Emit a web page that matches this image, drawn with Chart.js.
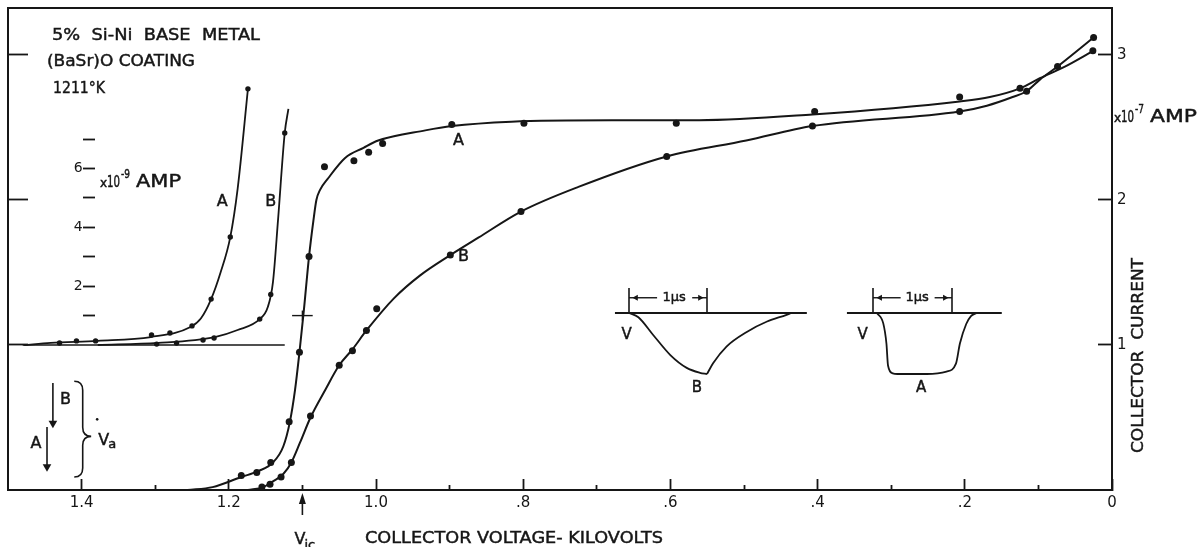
<!DOCTYPE html>
<html>
<head>
<meta charset="utf-8">
<script src="https://cdn.jsdelivr.net/npm/chart.js@4.4.1/dist/chart.umd.min.js"></script>
<style>
  html, body { margin: 0; padding: 0; background: #fff; }
  canvas { display: block; }
</style>
</head>
<body>
<canvas id="chart" width="1198" height="547"></canvas>
<script>
// collector current against collector voltage, [kV, 1e-7 A]
const curveA = [[1.256, 0], [1.222, 0.02], [1.183, 0.09], [1.160, 0.13], [1.140, 0.19], [1.126, 0.30],
  [1.117, 0.47], [1.110, 0.69], [1.104, 0.95], [1.098, 1.24], [1.091, 1.61], [1.085, 1.86], [1.081, 2.00],
  [1.076, 2.07], [1.065, 2.15], [1.042, 2.29], [1.017, 2.36], [0.997, 2.41], [0.933, 2.48], [0.897, 2.51],
  [0.816, 2.54], [0.680, 2.55], [0.561, 2.55], [0.407, 2.59], [0.207, 2.68], [0.166, 2.71], [0.125, 2.77],
  [0.098, 2.84], [0.064, 2.92], [0.025, 3.03]]
const dotsA = [[1.183, 0.10], [1.162, 0.12], [1.143, 0.19], [1.118, 0.47], [1.104, 0.95], [1.091, 1.61],
  [1.070, 2.23], [1.030, 2.27], [1.010, 2.33], [0.991, 2.39], [0.897, 2.52], [0.799, 2.53], [0.592, 2.53],
  [0.404, 2.61], [0.207, 2.71], [0.125, 2.77], [0.026, 3.03]]
const curveB = [[1.174, 0], [1.153, 0.02], [1.140, 0.06], [1.126, 0.11], [1.115, 0.19], [1.103, 0.33],
  [1.089, 0.50], [1.069, 0.69], [1.050, 0.86], [1.032, 0.97], [1.013, 1.10], [0.976, 1.32], [0.940, 1.48],
  [0.899, 1.62], [0.861, 1.74], [0.803, 1.92], [0.725, 2.09], [0.605, 2.30], [0.497, 2.41], [0.407, 2.51],
  [0.207, 2.61], [0.170, 2.65], [0.135, 2.71], [0.116, 2.75], [0.098, 2.83], [0.074, 2.92], [0.025, 3.12]]
const dotsB = [[1.155, 0.02], [1.144, 0.04], [1.129, 0.09], [1.115, 0.19], [1.089, 0.51], [1.050, 0.86],
  [1.032, 0.96], [1.013, 1.10], [0.999, 1.25], [0.899, 1.62], [0.803, 1.92], [0.605, 2.30], [0.407, 2.51],
  [0.207, 2.61], [0.116, 2.75], [0.074, 2.92], [0.025, 3.12]]

// low-current detail, [kV, 1e-9 A]
const insetCurveA = [[1.478, 0], [1.442, 0.07], [1.378, 0.14], [1.306, 0.27], [1.252, 0.61], [1.238, 0.90],
  [1.224, 1.56], [1.211, 2.48], [1.198, 3.67], [1.188, 5.31], [1.174, 8.71]]
const insetDotsA = [[1.430, 0.07], [1.407, 0.14], [1.381, 0.14], [1.305, 0.34], [1.280, 0.41], [1.250, 0.65],
  [1.224, 1.56], [1.198, 3.67], [1.174, 8.71]]
const insetCurveB = [[1.378, 0], [1.296, 0.07], [1.219, 0.27], [1.188, 0.51], [1.158, 0.88], [1.147, 1.29],
  [1.140, 2.14], [1.133, 4.29], [1.124, 7.21], [1.119, 8.03]]
const insetDotsB = [[1.298, 0.03], [1.271, 0.07], [1.235, 0.17], [1.220, 0.24], [1.158, 0.88], [1.143, 1.72],
  [1.124, 7.21]]
const insetBase = [[1.48, 0], [1.124, 0]]
const icMark = 1.10

// anode pulse shapes, [microseconds, relative volts]
const pulseBFall = [[0, 0], [0.12, -0.07], [0.31, -0.36], [0.53, -0.69], [0.74, -0.90], [0.91, -0.98], [1.0, -1.0]]
const pulseBRise = [[1.0, -1.0], [1.08, -0.82], [1.25, -0.55], [1.51, -0.31], [1.77, -0.14], [2.02, -0.03], [2.08, 0]]
const pulseA = [[0.05, 0], [0.13, -0.17], [0.17, -0.50], [0.19, -0.86], [0.25, -0.99], [0.31, -1.0], [0.68, -1.0],
  [0.93, -0.96], [1.05, -0.83], [1.10, -0.50], [1.18, -0.18], [1.24, -0.05], [1.31, 0]]
const baseB = [[-0.18, 0], [2.28, 0]]
const baseA = [[-0.33, 0], [1.63, 0]]
const usBar = 0.41
const usArrow = 0.25
const usGapB = [0.36, 0.81]
const usGapA = [0.35, 0.78]

// anode voltage steps, [kV, 1e-7 A]
const vaArrowB = [[1.439, 0.738], [1.439, 0.46]]
const vaArrowA = [[1.447, 0.434], [1.447, 0.16]]

const kvMajor = [0, 0.2, 0.4, 0.6, 0.8, 1.0, 1.2, 1.4]
const kvMinor = [0.1, 0.3, 0.5, 0.7, 0.9, 1.1, 1.3]
const kvLabels = ['0', '.2', '.4', '.6', '.8', '1.0', '1.2', '1.4']
const ampTicks = [1, 2, 3]
const nanoTicks = [1, 2, 3, 4, 5, 6, 7]
const nanoLabels = ['', '2', '', '4', '', '6', '']

const INK = '#161616'
const FAMILY = '"DejaVu Sans", "Liberation Sans", sans-serif'
const KV_MAX = 1.5
const AMP_MAX = 3.324
const INSET_GAIN = 0.2028   // one 1e-9 A step of the inset, in 1e-7 A units
const INSET_AXIS_KV = 1.3986
const PLOT_W = 1104, PLOT_H = 482

Chart.defaults.font.family = FAMILY
Chart.defaults.color = INK

const pts = arr => arr.map(([x, y]) => ({ x, y }))

function line(arr, xAxisID = 'x', yAxisID = 'y', width = 2) {
  return {
    data: pts(arr), xAxisID, yAxisID, showLine: true, pointRadius: 0,
    borderColor: INK, borderWidth: width, cubicInterpolationMode: 'monotone'
  }
}

function dots(arr, yAxisID = 'y', r = 3.5) {
  return {
    data: pts(arr), xAxisID: 'x', yAxisID, showLine: false, pointRadius: r,
    pointBackgroundColor: INK, pointBorderWidth: 0
  }
}

function head(at, rotation, xAxisID, yAxisID, r) {
  return {
    data: pts([at]), xAxisID, yAxisID, showLine: false, pointStyle: 'triangle',
    rotation, pointRadius: r, pointBackgroundColor: INK, pointBorderWidth: 0
  }
}

// the 1 us marker above a pulse
function usMarker(t, gap) {
  return [
    line([[0, 0], [0, usBar]], t, 'vP', 1.6),
    line([[1, 0], [1, usBar]], t, 'vP', 1.6),
    line([[0, usArrow], [gap[0], usArrow]], t, 'vP', 1.4),
    line([[gap[1], usArrow], [1, usArrow]], t, 'vP', 1.4),
    head([0.09, usArrow], 270, t, 'vP', 3.6),
    head([0.91, usArrow], 90, t, 'vP', 3.6)
  ]
}

// hidden axis whose origin lies `at` px into the plot
function span(at, perUnit, size) {
  return { min: -at / perUnit, max: (size - at) / perUnit }
}

function hidden(axis, lim) {
  return { type: 'linear', axis, display: false, ...lim }
}

const datasets = [
  line(curveA), dots(dotsA),
  line(curveB), dots(dotsB),
  line(insetCurveA, 'x', 'yInset', 1.8), dots(insetDotsA, 'yInset', 2.7),
  line(insetCurveB, 'x', 'yInset', 1.8), dots(insetDotsB, 'yInset', 2.7),
  line(insetBase, 'x', 'yInset', 1.6),
  line([[icMark + 0.014, 1], [icMark - 0.014, 1]], 'x', 'yInset', 1.4),
  line([[icMark, 0.83], [icMark, 1.17]], 'x', 'yInset', 1.4),
  line(vaArrowB, 'x', 'y', 1.6), head(vaArrowB[1], 180, 'x', 'y', 5),
  line(vaArrowA, 'x', 'y', 1.6), head(vaArrowA[1], 180, 'x', 'y', 5),
  line(baseB, 'tB', 'vP', 1.8), line(pulseBFall, 'tB', 'vP', 1.8), line(pulseBRise, 'tB', 'vP', 1.8),
  line(baseA, 'tA', 'vP', 1.8), line(pulseA, 'tA', 'vP', 1.8),
  ...usMarker('tB', usGapB), ...usMarker('tA', usGapA)
]

// lettering: filled, then a thin stroke to thicken the strokes
function ink(ctx, s) {
  ctx.fillText(s, 0, 0)
  ctx.lineWidth = 0.45
  ctx.strokeText(s, 0, 0)
}

function write(ctx, s, x, y, size, width, rotate) {
  ctx.save()
  ctx.font = `${size}px ${FAMILY}`
  ctx.textAlign = 'left'
  ctx.textBaseline = 'alphabetic'
  const k = width ? width / ctx.measureText(s).width : 1
  ctx.translate(x, y)
  if (rotate) ctx.rotate(rotate)
  ctx.scale(k, 1)
  ink(ctx, s)
  ctx.restore()
}

function centered(ctx, s, x, y, size) {
  ctx.save()
  ctx.font = `${size}px ${FAMILY}`
  ctx.textAlign = 'center'
  ctx.textBaseline = 'middle'
  ctx.translate(x, y)
  ink(ctx, s)
  ctx.restore()
}

// "x10^n AMP" unit note
function unit(ctx, exp, x, y, ampWidth) {
  write(ctx, 'x', x, y, 12)
  write(ctx, '10', x + 7, y, 15, 13)
  write(ctx, exp, x + 21, y - 9, 12, 9)
  write(ctx, 'AMP', x + 36, y, 17, ampWidth)
}

function brace(ctx, x0, x1, yTop, yBot, yTip) {
  const xm = (x0 + x1) / 2
  ctx.beginPath()
  ctx.moveTo(x0, yTop)
  ctx.quadraticCurveTo(xm, yTop, xm, yTop + 9)
  ctx.lineTo(xm, yTip - 9)
  ctx.quadraticCurveTo(xm, yTip, x1, yTip)
  ctx.quadraticCurveTo(xm, yTip, xm, yTip + 9)
  ctx.lineTo(xm, yBot - 9)
  ctx.quadraticCurveTo(xm, yBot, x0, yBot)
  ctx.stroke()
}

const notes = {
  id: 'notes',
  afterDraw(chart) {
    const { ctx } = chart
    const { x, y, yInset, tA, tB, vP } = chart.scales
    ctx.save()
    ctx.fillStyle = INK
    ctx.strokeStyle = INK

    write(ctx, '5%  Si-Ni  BASE  METAL', 52, 40, 16, 208)
    write(ctx, '(BaSr)O COATING', 47, 66, 16, 148)
    write(ctx, '1211°K', 53, 93, 16, 52)

    unit(ctx, '-9', 100, 187, 45)
    unit(ctx, '-7', 1114, 122, 47)

    write(ctx, 'COLLECTOR VOLTAGE- KILOVOLTS', 365, 543, 16, 298)
    write(ctx, 'COLLECTOR  CURRENT', 1143, 453, 16, 195, -Math.PI / 2)

    // curve names
    centered(ctx, 'A', x.getPixelForValue(1.209), yInset.getPixelForValue(4.86), 16)
    centered(ctx, 'B', x.getPixelForValue(1.143), yInset.getPixelForValue(4.86), 16)
    centered(ctx, 'A', x.getPixelForValue(0.888), y.getPixelForValue(2.41), 16)
    centered(ctx, 'B', x.getPixelForValue(0.881), y.getPixelForValue(1.61), 16)

    // pulse captions
    centered(ctx, 'V', tB.getPixelForValue(-0.03), vP.getPixelForValue(-0.36), 15)
    centered(ctx, 'B', tB.getPixelForValue(0.87), vP.getPixelForValue(-1.23), 15)
    centered(ctx, '1μs', tB.getPixelForValue(0.58), vP.getPixelForValue(usArrow), 13)
    centered(ctx, 'V', tA.getPixelForValue(-0.13), vP.getPixelForValue(-0.36), 15)
    centered(ctx, 'A', tA.getPixelForValue(0.61), vP.getPixelForValue(-1.23), 15)
    centered(ctx, '1μs', tA.getPixelForValue(0.56), vP.getPixelForValue(usArrow), 13)

    // anode voltage steps
    centered(ctx, 'B', x.getPixelForValue(1.422), y.getPixelForValue(0.62), 16)
    centered(ctx, 'A', x.getPixelForValue(1.462), y.getPixelForValue(0.32), 16)
    ctx.lineWidth = 1.6
    const tipY = y.getPixelForValue(0.37)
    const bx = x.getPixelForValue(1.387)
    brace(ctx, x.getPixelForValue(1.410), bx,
      y.getPixelForValue(0.75), y.getPixelForValue(0.09), tipY)
    write(ctx, 'V', bx + 7, tipY + 9, 16)
    write(ctx, 'a', bx + 17, tipY + 12, 13)
    ctx.beginPath()
    ctx.arc(bx + 6, tipY - 17, 1.3, 0, Math.PI * 2)
    ctx.fill()

    // ignition voltage mark under the axis
    const ix = x.getPixelForValue(icMark)
    ctx.lineWidth = 1.6
    ctx.beginPath()
    ctx.moveTo(ix, 515)
    ctx.lineTo(ix, 500)
    ctx.stroke()
    ctx.beginPath()
    ctx.moveTo(ix, 493)
    ctx.lineTo(ix - 3.5, 504)
    ctx.lineTo(ix + 3.5, 504)
    ctx.closePath()
    ctx.fill()
    write(ctx, 'V', ix - 8, 544, 16)
    write(ctx, 'ic', ix + 2, 549, 13)

    ctx.restore()
  }
}

const fixTicks = list => scale => { scale.ticks = list.map(value => ({ value })) }
const tickGrid = len => ({ drawOnChartArea: false, tickLength: len, tickWidth: 1.8, tickColor: INK })
// fixed axis band, no label overhang pushed into the layout
const band = (key, size) => s => {
  if (key) s[key] = size
  s.paddingTop = s.paddingBottom = s.paddingLeft = s.paddingRight = 0
}

new Chart(document.getElementById('chart'), {
  type: 'scatter',
  data: { datasets },
  plugins: [notes],
  options: {
    responsive: false,
    devicePixelRatio: 1,
    animation: false,
    events: [],
    layout: { padding: 0 },
    plugins: { legend: { display: false }, tooltip: { enabled: false } },
    scales: {
      x: {
        type: 'linear', position: 'bottom', reverse: true, min: 0, max: KV_MAX,
        afterBuildTicks: fixTicks(kvMajor),
        afterFit: band('height', 547 - 490),
        grid: tickGrid(-11),
        border: { color: INK, width: 2 },
        ticks: {
          padding: 15, maxRotation: 0, autoSkip: false, font: { size: 15 }, color: INK,
          callback: v => kvLabels[kvMajor.indexOf(v)]
        }
      },
      xMinor: {
        type: 'linear', position: { y: 0 }, reverse: true, min: 0, max: KV_MAX,
        afterBuildTicks: fixTicks(kvMinor),
        afterFit: band(),
        grid: tickGrid(-5),
        border: { display: false },
        ticks: { display: false }
      },
      xTop: {
        type: 'linear', position: 'top', reverse: true, min: 0, max: KV_MAX,
        afterFit: band('height', 8),
        grid: { display: false },
        border: { color: INK, width: 2 },
        ticks: { display: false }
      },
      y: {
        type: 'linear', position: 'right', min: 0, max: AMP_MAX,
        afterBuildTicks: fixTicks(ampTicks),
        afterFit: band('width', 1198 - 1112),
        grid: tickGrid(-14),
        border: { color: INK, width: 2 },
        ticks: { padding: 14 + 5, font: { size: 15 }, color: INK, callback: v => String(v) }
      },
      yLeft: {
        type: 'linear', position: 'left', min: 0, max: AMP_MAX,
        afterBuildTicks: fixTicks(ampTicks),
        afterFit: band('width', 8),
        grid: tickGrid(-20),
        border: { color: INK, width: 2 },
        ticks: { display: false }
      },
      yInset: {
        type: 'linear', position: { x: INSET_AXIS_KV },
        min: -1 / INSET_GAIN, max: (AMP_MAX - 1) / INSET_GAIN,
        afterBuildTicks: fixTicks(nanoTicks),
        afterFit: band(),
        grid: tickGrid(-12),
        border: { display: false },
        ticks: { padding: 14, font: { size: 14 }, color: INK, callback: v => nanoLabels[nanoTicks.indexOf(v)] }
      },
      tB: hidden('x', span(621, 78, PLOT_W)),
      tA: hidden('x', span(865, 79, PLOT_W)),
      vP: hidden('y', span(177, 61, PLOT_H))
    }
  }
})
</script>
</body>
</html>
